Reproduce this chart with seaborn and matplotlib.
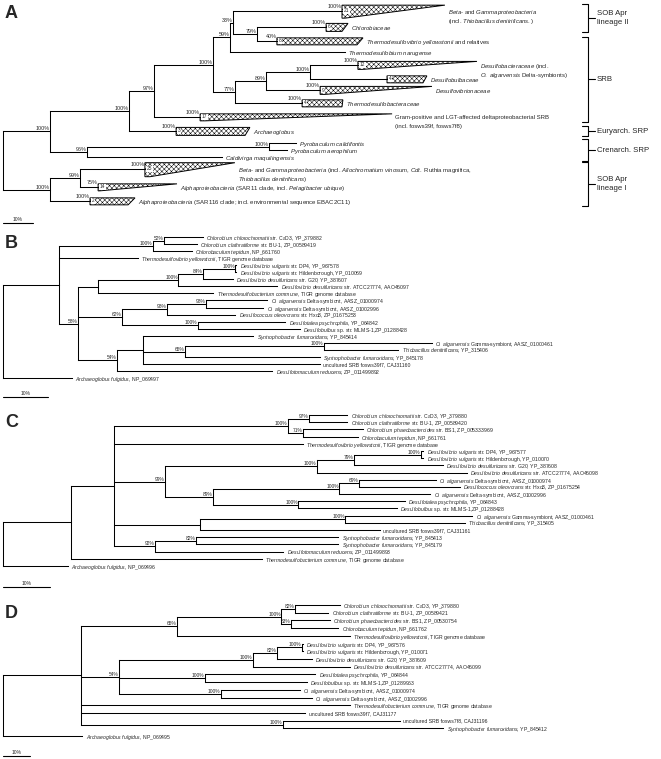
import numpy as np
import pandas as pd
import matplotlib
matplotlib.use("Agg")
import matplotlib.pyplot as plt
from matplotlib.patches import Polygon
import seaborn as sns

W, H = 661, 759

# ---------------- panel A: AprA tree with collapsed clades (depths in %) ----------------
a_labels = [
    "*Beta*- and *Gammaproteobacteria*\n(incl. *Thiobacillus denitrificans.*)",
    "*Chlorobiaceae*",
    "*Thermodesulfovibrio yellowstonii* and relatives",
    "*Thermodesulfobium narugense*",
    "*Desulfobacteraceae* (incl.\n*O. algarvensis* Delta-symbionts)",
    "*Desulfobulbaceae*",
    "*Desulfovibrionaceae*",
    "*Thermodesulfobacteraceae*",
    "Gram-positive and LGT-affected deltaproteobacterial SRB\n(incl. fosws39f, fosws7f8)",
    "*Archaeoglobus*",
    "*Pyrobaculum calidifontis*",
    "*Pyrobaculum aerophilum*",
    "*Caldivirga maquilingensis*",
    "*Beta*- and *Gammaproteobacteria* (incl. *Allochromatium vinosum*, *Cdt.* Ruthia magnifica,\n*Thiobacillus denitrificans*)",
    "*Alphaproteobacteria* (SAR11 clade, incl. *Pelagibacter ubique*)",
    "*Alphaproteobacteria* (SAR116 clade; incl. environmental sequence EBAC2C11)",
]
a_leaf_parent = [6, 7, 7, 5, 10, 10, 9, 8, 3, 2, 12, 12, 11, 14, 14, 13]
a_leaf_depth = [113.0, 107.7, 91.3, 114.0, 118.3, 128.0, 105.7, 99.7, 65.7, 57.7, 97.7, 94.7, 73.0, 47.3, 31.7, 29.0]
a_clade_max = [147.3, 115.0, 120.0, None, 158.0, 141.3, 143.0, 113.3, 129.7, 82.3, None, None, None, 77.3, 58.0, 44.0]
a_clade_min = [114.0, 113.0, 118.0, None, 119.7, 140.0, 107.3, 113.0, 67.3, 80.7, None, None, None, 49.0, 32.3, 41.7]
a_clade_n = ["21", "6", "8", None, "12", "4", "9", "4", "17", "3", None, None, None, "25", "14", "2"]
a_leaf_support = ["100%", "100%", "40%", None, "100%", None, "100%", "100%", "100%", "100%",
                  None, None, None, "100%", "75%", "100%"]
a_node_parent = [-1, 0, 1, 2, 3, 4, 5, 6, 4, 8, 9, 1, 11, 0, 13]
a_node_depth = [0, 15.7, 42.0, 50.3, 70.0, 75.7, 76.7, 84.7, 77.3, 87.7, 102.3, 28.0, 88.7, 15.7, 25.7]
a_node_support = [None, "100%", "100%", "97%", "100%", "59%", "33%", "79%", "77%", "89%", "100%",
                  "96%", "100%", "100%", "99%"]
a_groups = ["SOB Apr\nlineage II", "SRB", "Euryarch. SRP", "Crenarch. SRP", "SOB Apr\nlineage I"]
a_group_first = [0, 2, 9, 10, 13]
a_group_last = [1, 8, 9, 12, 15]

# ---------------- panel B ----------------
b_labels = [
    "*Chlorobium chlorochromatii* str. CaD3, YP_379882",
    "*Chlorobium clathratiforme* str. BU-1, ZP_00589419",
    "*Chlorobaculum tepidum*, NP_661760",
    "*Thermodesulfovibrio yellowstonii*, TIGR genome database",
    "*Desulfovibrio vulgaris* str. DP4, YP_967578",
    "*Desulfovibrio vulgaris* str. Hildenborough, YP_010069",
    "*Desulfovibrio desulfuricans* str. G20, YP_387607",
    "*Desulfovibrio desulfuricans* str. ATCC27774, AAO46097",
    "*Thermodesulfobacterium commune*, TIGR genome database",
    "*O. algarvensis* Delta-symbiont, AASZ_01000974",
    "*O. algarvensis* Delta-symbiont, AASZ_01002996",
    "*Desulfococcus oleovorans* str. Hxd3, ZP_01675253",
    "*Desulfotalea psychrophila*, YP_064842",
    "*Desulfobulbus* sp. str. MLMS-1,ZP_01288428",
    "*Syntrophobacter fumaroxidans*, YP_845414",
    "*O. algarvensis* Gamma-symbiont, AASZ_01000461",
    "*Thiobacillus denitrificans*, YP_315406",
    "*Syntrophobacter fumaroxidans*, YP_845178",
    "uncultured SRB fosws39f7, CAJ31160",
    "*Desulfotomaculum reducens*, ZP_011499892",
    "*Archaeoglobus fulgidus*, NP_069497",
]
b_leaf_parent = [3, 3, 2, 1, 8, 8, 7, 6, 5, 11, 11, 10, 12, 12, 14, 16, 16, 15, 14, 13, 0]
b_leaf_depth = [44.4, 43.1, 42.0, 30.0, 51.8, 51.8, 51.1, 60.9, 46.7, 58.7, 57.8, 51.6, 62.7, 66.0,
                55.6, 95.3, 87.8, 70.4, 70.4, 59.8, 15.3]
b_node_parent = [-1, 0, 1, 2, 1, 4, 5, 6, 7, 4, 9, 10, 9, 4, 13, 14, 15]
b_node_depth = [0, 12.4, 33.3, 35.8, 16.7, 21.1, 38.9, 44.4, 51.6, 26.4, 36.4, 45.1, 43.3, 25.3, 31.1, 40.4, 71.3]
b_node_support = [None, None, "100%", "52%", "58%", None, "100%", "84%", "100%", "62%", "98%", "98%",
                  "100%", "54%", None, "65%", "100%"]

# ---------------- panel C ----------------
c_labels = [
    "*Chlorobium chlorochromatii* str. CaD3, YP_379880",
    "*Chlorobium clathratiforme* str. BU-1, ZP_00589420",
    "*Chlorobium phaeobacteroides* str. BS1, ZP_005333969",
    "*Chlorobaculum tepidum*, NP_661761",
    "*Thermodesulfovibrio yellowstonii*, TIGR genome database",
    "*Desulfovibrio vulgaris* str. DP4, YP_967577",
    "*Desulfovibrio vulgaris* str. Hildenborough, YP_010070",
    "*Desulfovibrio desulfuricans* str. G20, YP_387608",
    "*Desulfovibrio desulfuricans* str. ATCC27774, AAO46098",
    "*O. algarvensis* Delta-symbiont, AASZ_01000974",
    "*Desulfococcus oleovorans* str. Hxd3, ZP_01675254",
    "*O. algarvensis* Delta-symbiont, AASZ_01002996",
    "*Desulfotalea psychrophila*, YP_064843",
    "*Desulfobulbus* sp. str. MLMS-1,ZP_01288428",
    "*O. algarvensis* Gamma-symbiont, AASZ_01000461",
    "*Thiobacillus denitrificans*, YP_315405",
    "uncultured SRB fosws39f7, CAJ31161",
    "*Syntrophobacter fumaroxidans*, YP_845413",
    "*Syntrophobacter fumaroxidans*, YP_845179",
    "*Desulfotomaculum reducens*, ZP_011499893",
    "*Thermodesulfobacterium commune*, TIGR genome database",
    "*Archaeoglobus fulgidus*, NP_069496",
]
c_leaf_parent = [4, 4, 5, 5, 2, 9, 9, 8, 7, 12, 12, 11, 13, 13, 15, 15, 14, 17, 17, 16, 1, 0]
c_leaf_depth = [73.2, 73.2, 76.6, 75.5, 63.8, 89.4, 89.4, 93.6, 98.7, 92.1, 97.2, 90.9, 85.5, 83.8,
                99.8, 98.3, 80.2, 71.3, 71.3, 59.6, 55.1, 13.8]
c_node_parent = [-1, 0, 1, 2, 3, 3, 2, 6, 7, 8, 6, 10, 11, 10, 2, 14, 2, 16]
c_node_depth = [0, 14.5, 23.6, 60.6, 65.1, 63.8, 34.5, 66.8, 74.7, 88.9, 44.7, 71.5, 75.7, 62.8,
                41.9, 72.8, 32.3, 41.1]
c_node_support = [None, None, None, "100%", "97%", "71%", "99%", "100%", "79%", "100%", "89%", "100%",
                  "69%", "100%", None, "100%", "92%", "82%"]

# ---------------- panel D ----------------
d_labels = [
    "*Chlorobium chlorochromatii* str. CaD3, YP_379880",
    "*Chlorobium clathratiforme* str. BU-1, ZP_00589421",
    "*Chlorobium phaeobacteroides* str. BS1, ZP_00530754",
    "*Chlorobaculum tepidum*, NP_661762",
    "*Thermodesulfovibrio yellowstonii*, TIGR genome database",
    "*Desulfovibrio vulgaris* str. DP4, YP_967576",
    "*Desulfovibrio vulgaris* str. Hildenborough, YP_010071",
    "*Desulfovibrio desulfuricans* str. G20, YP_387609",
    "*Desulfovibrio desulfuricans* str. ATCC27774, AAO46099",
    "*Desulfotalea psychrophila*, YP_064844",
    "*Desulfobulbus* sp. str. MLMS-1,ZP_01289963",
    "*O. algarvensis* Delta-symbiont, AASZ_01000974",
    "*O. algarvensis* Delta-symbiont, AASZ_01002996",
    "*Thermodesulfobacterium commune*, TIGR genome database",
    "uncultured SRB fosws39f7, CAJ31177",
    "uncultured SRB fosws7f8, CAJ31196",
    "*Syntrophobacter fumaroxidans*, YP_845412",
    "*Archaeoglobus fulgidus*, NP_069495",
]
d_leaf_parent = [4, 4, 5, 5, 2, 9, 9, 8, 7, 10, 10, 11, 11, 1, 1, 12, 12, 0]
d_leaf_depth = [124.8, 120.4, 121.1, 124.1, 128.5, 111.1, 111.1, 114.4, 128.5, 115.6, 112.6, 110.0,
                114.4, 128.5, 111.9, 147.0, 163.0, 29.3]
d_node_parent = [-1, 0, 1, 2, 3, 3, 1, 6, 7, 8, 6, 6, 1]
d_node_depth = [0, 28.9, 64.4, 103.0, 108.1, 106.7, 43.0, 92.6, 101.5, 110.7, 74.8, 80.7, 103.7]
d_node_support = [None, None, "65%", "100%", "82%", "83%", "54%", "100%", "82%", "100%", "100%",
                  "100%", "100%"]

# ---------------- layout (pixels) ----------------
A_GAPS = [0, 16, 14, 11, 13, 14, 11, 13, 14, 14, 12, 7, 7, 12, 18, 14]
A_TRI_H = [13, 8, 7, 0, 8, 7, 8, 7, 7, 8, 0, 0, 0, 14, 7, 7]
ROOT_X = 3
LEAF_FS = 3.7
SUP_FS = 3.5


def rich(s):
    # *text* -> italic words via mathtext, normal spaces between words
    parts = s.split("*")
    out = []
    for i, p in enumerate(parts):
        if i % 2 == 1 and p:
            out.append(" ".join(r"$\mathit{" + w + "}$" for w in p.split(" ")))
        else:
            out.append(p)
    return "".join(out)


def panel_axes(y0, sp, ppx):
    ax = fig.add_axes([0, 0, 1, 1])
    ax.patch.set_alpha(0)
    return ax, (-ROOT_X * 10 / ppx, (W - ROOT_X) * 10 / ppx), ((H - y0) / sp, -y0 / sp)


def tree_layout(leaf_parent, node_parent, leaf_rows):
    n = len(node_parent)
    kid_rows = [[] for _ in range(n)]
    for i, p in enumerate(leaf_parent):
        kid_rows[p].append(leaf_rows[i])
    node_y = [0.0] * n
    spans = [None] * n
    for k in range(n - 1, -1, -1):
        ys = kid_rows[k]
        spans[k] = (min(ys), max(ys))
        node_y[k] = (min(ys) + max(ys)) / 2
        if node_parent[k] >= 0:
            kid_rows[node_parent[k]].append(node_y[k])
    return node_y, spans


def tree_segments(leaf_parent, leaf_depth, leaf_rows, node_parent, node_depth, node_y, spans):
    rows = []
    seg = 0
    for k in range(len(node_parent)):
        lo, hi = spans[k]
        rows += [(seg, node_depth[k], lo), (seg, node_depth[k], hi)]
        seg += 1
        p = node_parent[k]
        if p >= 0:
            rows += [(seg, node_depth[p], node_y[k]), (seg, node_depth[k], node_y[k])]
            seg += 1
    for i, p in enumerate(leaf_parent):
        rows += [(seg, node_depth[p], leaf_rows[i]), (seg, leaf_depth[i], leaf_rows[i])]
        seg += 1
    return pd.DataFrame(rows, columns=["seg", "x", "y"])


def draw_tree(ax, leaf_parent, leaf_depth, leaf_rows, node_parent, node_depth, node_support,
              sup_size):
    node_y, spans = tree_layout(leaf_parent, node_parent, leaf_rows)
    df = tree_segments(leaf_parent, leaf_depth, leaf_rows, node_parent, node_depth, node_y, spans)
    sns.lineplot(data=df, x="x", y="y", units="seg", estimator=None, sort=False, color="black",
                 lw=0.75, legend=False, ax=ax, solid_capstyle="projecting")
    for k, s in enumerate(node_support):
        if s:
            ax.annotate(s, (node_depth[k], node_y[k]), xytext=(-0.3, 0.7), textcoords="offset points",
                        ha="right", va="baseline", fontsize=sup_size)
    return node_y


def leaf_text(ax, x, y, label, size, dx=2.5):
    for j, line in enumerate(label.split("\n")):
        ax.annotate(rich(line), (x, y), xytext=(dx, -6.3 * j), textcoords="offset points",
                    ha="left", va="center_baseline", fontsize=size)


def scale_bar(ax, row):
    ax.plot([0, 10], [row, row], color="black", lw=0.8)
    ax.annotate("10%", (5, row), xytext=(0, 1.6), textcoords="offset points",
                ha="center", va="baseline", fontsize=3.6)


sns.set_theme(style="white")
plt.rcParams["font.family"] = ["Liberation Sans", "DejaVu Sans"]
plt.rcParams["mathtext.fontset"] = "custom"
plt.rcParams["mathtext.rm"] = "Liberation Sans"
plt.rcParams["mathtext.it"] = "Liberation Sans:italic"
plt.rcParams["mathtext.default"] = "it"
plt.rcParams["hatch.linewidth"] = 0.35

fig = plt.figure(figsize=(W / 100, H / 100), dpi=100)
fig.patch.set_facecolor("white")

# ---- panel A ----
a_rows = list(np.cumsum(A_GAPS).astype(float))
axA, xl, yl = panel_axes(11, 1.0, 30)
draw_tree(axA, a_leaf_parent, a_leaf_depth, a_rows, a_node_parent, a_node_depth, a_node_support, 3.9)
for i, lab in enumerate(a_labels):
    y = a_rows[i]
    tip = a_leaf_depth[i]
    if a_clade_max[i] is not None:
        h = A_TRI_H[i]
        top, bot = y - 0.45 * h, y + 0.55 * h
        poly = Polygon([(a_leaf_depth[i], top), (a_clade_max[i], top), (a_clade_min[i], bot),
                        (a_leaf_depth[i], bot)], closed=True, facecolor="white", edgecolor="black",
                       hatch="xxxxxxx", lw=0.7)
        axA.add_patch(poly)
        axA.annotate(a_clade_n[i], (a_leaf_depth[i], y), xytext=(1.3, 0), textcoords="offset points",
                     ha="left", va="center", fontsize=3.5,
                     bbox=dict(boxstyle="square,pad=0.12", fc="white", ec="none"))
        tip = a_clade_max[i]
    if a_leaf_support[i]:
        axA.annotate(a_leaf_support[i], (a_leaf_depth[i], y), xytext=(-0.3, 2.3),
                     textcoords="offset points", ha="right", va="baseline", fontsize=3.9)
    leaf_text(axA, tip, y, lab, 4.3, dx=2.0)
scale_bar(axA, 223 - 11)
axA.set_xlim(xl)
axA.set_ylim(yl)
axA.axis("off")

# ---- panel B ----
b_rows = [float(i) for i in range(len(b_labels))]
axB, xl, yl = panel_axes(237, 7.05, 45)
draw_tree(axB, b_leaf_parent, b_leaf_depth, b_rows, b_node_parent, b_node_depth, b_node_support, SUP_FS)
for i, lab in enumerate(b_labels):
    leaf_text(axB, b_leaf_depth[i], b_rows[i], lab, LEAF_FS)
scale_bar(axB, (397 - 237) / 7.05)
axB.set_xlim(xl)
axB.set_ylim(yl)
axB.axis("off")

# ---- panel C ----
c_rows = [float(i) for i in range(len(c_labels))]
axC, xl, yl = panel_axes(415, 7.19, 47)
draw_tree(axC, c_leaf_parent, c_leaf_depth, c_rows, c_node_parent, c_node_depth, c_node_support, SUP_FS)
for i, lab in enumerate(c_labels):
    leaf_text(axC, c_leaf_depth[i], c_rows[i], lab, LEAF_FS)
scale_bar(axC, (587 - 415) / 7.19)
axC.set_xlim(xl)
axC.set_ylim(yl)
axC.axis("off")

# ---- panel D ----
d_rows = [float(i) for i in range(len(d_labels))]
axD, xl, yl = panel_axes(605, 7.71, 27)
draw_tree(axD, d_leaf_parent, d_leaf_depth, d_rows, d_node_parent, d_node_depth, d_node_support, SUP_FS)
for i, lab in enumerate(d_labels):
    leaf_text(axD, d_leaf_depth[i], d_rows[i], lab, LEAF_FS)
scale_bar(axD, (756 - 605) / 7.71)
axD.set_xlim(xl)
axD.set_ylim(yl)
axD.axis("off")

# ---- brackets for panel A (pixel overlay) ----
deco = fig.add_axes([0, 0, 1, 1])
deco.patch.set_alpha(0)
for g, lab in enumerate(a_groups):
    f, l = a_group_first[g], a_group_last[g]
    top = 11 + a_rows[f] - 0.45 * max(A_TRI_H[f], 6) - 1
    bot = 11 + a_rows[l] + 0.55 * max(A_TRI_H[l], 6) + 1
    mid = (top + bot) / 2
    deco.plot([582, 588, 588, 582], [top, top, bot, bot], color="black", lw=0.8)
    deco.plot([588, 595], [mid, mid], color="black", lw=0.8)
    deco.text(597, mid, lab, ha="left", va="center", fontsize=5.6, linespacing=1.35)
for letter, yb in zip("ABCD", [18, 248, 427, 618]):
    deco.text(5, yb, letter, ha="left", va="baseline", fontsize=13, fontweight="bold")
deco.set_xlim(0, W)
deco.set_ylim(H, 0)
deco.axis("off")

fig.savefig("out.png", dpi=100, facecolor="white")
